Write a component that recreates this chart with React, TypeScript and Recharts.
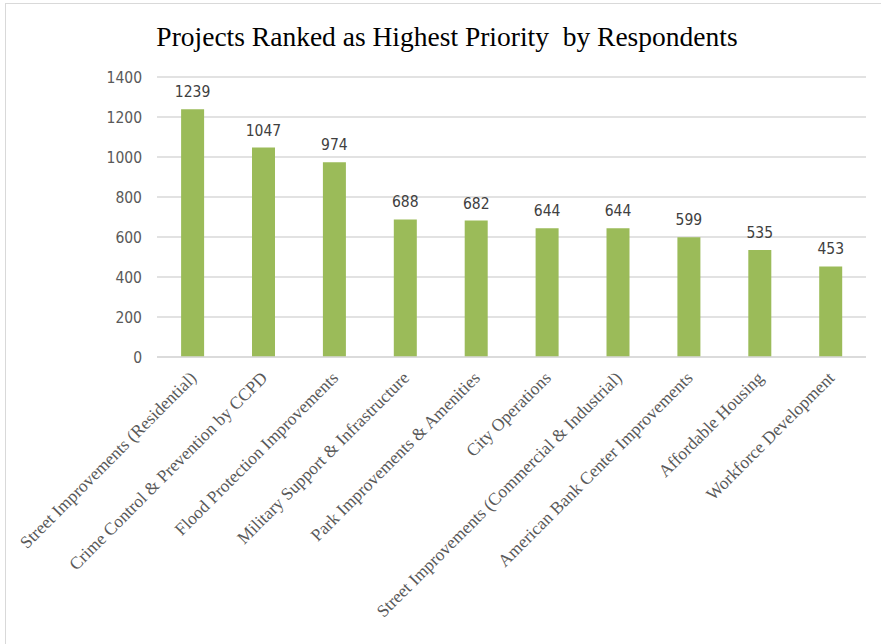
import { Bar, BarChart, CartesianGrid, LabelList, XAxis, YAxis } from 'recharts';

const projects = [
  'Street Improvements (Residential)',
  'Crime Control & Prevention by CCPD',
  'Flood Protection Improvements',
  'Military Support & Infrastructure',
  'Park Improvements & Amenities',
  'City Operations',
  'Street Improvements (Commercial & Industrial)',
  'American Bank Center Improvements',
  'Affordable Housing',
  'Workforce Development',
];
const votes = [1239, 1047, 974, 688, 682, 644, 644, 599, 535, 453];
const yTicks = [0, 200, 400, 600, 800, 1000, 1200, 1400];

const data = projects.map((name, i) => ({ name, votes: votes[i] }));

function SlantTick({ x, y, payload }: any) {
  return (
    <g transform={`translate(${x + 5},${y + 14})`}>
      <text
        transform="rotate(-45)"
        textAnchor="end"
        fill="#595959"
        fontFamily="'Liberation Serif', serif"
        fontSize={17.5}
      >
        {payload.value}
      </text>
    </g>
  );
}

export default function App() {
  return (
    <div style={{ position: 'relative', width: 881, height: 644, background: '#fff', overflow: 'hidden' }}>
      <style>{'body{margin:0}'}</style>
      <div
        style={{
          position: 'absolute',
          left: 5,
          top: 3,
          width: 900,
          height: 700,
          borderLeft: '1px solid #d9d9d9',
          borderTop: '1px solid #d9d9d9',
        }}
      />
      <div
        style={{
          position: 'absolute',
          top: 21,
          left: 0,
          width: 894,
          textAlign: 'center',
          fontFamily: "'Liberation Serif', serif",
          fontSize: 27.5,
          lineHeight: '32px',
          color: '#000',
          whiteSpace: 'pre',
        }}
      >
        {'Projects Ranked as Highest Priority  by Respondents'}
      </div>
      <div style={{ position: 'absolute', left: 0, top: 0 }}>
        <BarChart
          width={881}
          height={644}
          data={data}
          margin={{ top: 77, right: 15, bottom: 0, left: 0 }}
          barCategoryGap="34%"
        >
          <CartesianGrid vertical={false} stroke="#d9d9d9" strokeWidth={1.5} />
          <XAxis
            dataKey="name"
            interval={0}
            height={287}
            tickLine={false}
            axisLine={{ stroke: '#d9d9d9', strokeWidth: 1.5 }}
            tick={<SlantTick />}
          />
          <YAxis
            width={157}
            domain={[0, 1400]}
            ticks={yTicks}
            axisLine={false}
            tickLine={false}
            tickMargin={9}
            tick={{ fill: '#595959', fontSize: 15.5, fontFamily: "'Liberation Sans Narrow', 'DejaVu Sans Condensed', sans-serif" }}
          />
          <Bar dataKey="votes" fill="#9bbb59" isAnimationActive={false}>
            <LabelList
              dataKey="votes"
              position="top"
              offset={12}
              fill="#404040"
              fontSize={15.5}
              fontFamily="'Liberation Sans Narrow', 'DejaVu Sans Condensed', sans-serif"
            />
          </Bar>
        </BarChart>
      </div>
    </div>
  );
}
